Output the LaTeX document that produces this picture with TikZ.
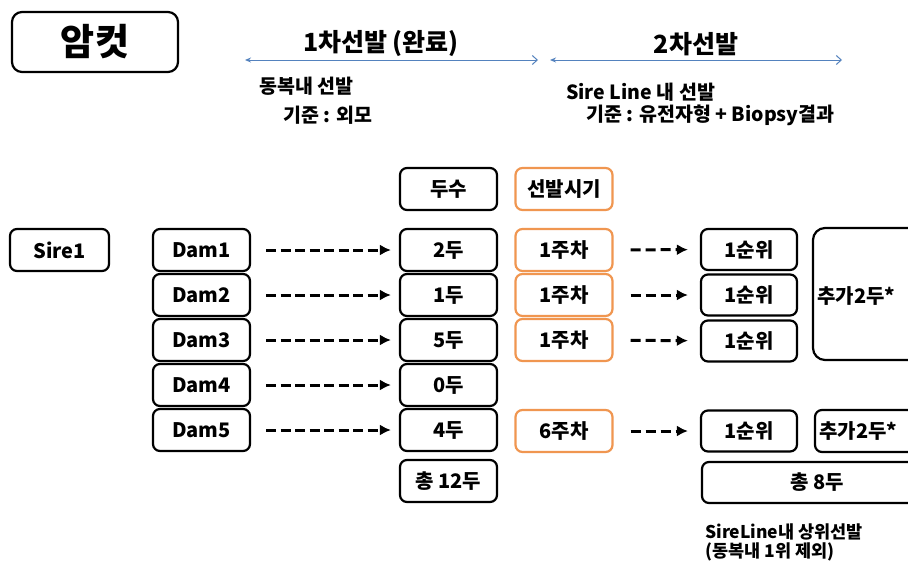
\documentclass[tikz,border=0pt]{standalone}
\usepackage{fontspec}
\setmainfont{Noto Sans CJK KR}
\usetikzlibrary{arrows.meta}
\definecolor{ablue}{RGB}{84,130,190}
\definecolor{aorange}{RGB}{240,150,80}
\tikzset{
  box/.style={draw=black, line width=2.2pt, rounded corners=7pt, minimum width=97pt, minimum height=42pt, inner sep=0pt, font=\bfseries\fontsize{20}{22}\selectfont},
  obox/.style={box, draw=aorange},
  txt/.style={inner sep=0pt, font=\bfseries\fontsize{19.5}{21}\selectfont},
  dasharr/.style={line width=3pt, dash pattern=on 10pt off 4.5pt, -{Latex[length=11pt,width=11pt]}},
  barr/.style={draw=ablue, line width=1pt, {Stealth[length=6pt,width=5pt]}-{Straight Barb[length=5pt,width=9pt]}},
}
\begin{document}
\begin{tikzpicture}[x=1pt,y=-1pt]
\clip (0,0) rectangle (908,562);
\fill[white] (0,0) rectangle (908,562);
% title
\node[box, minimum width=166pt, minimum height=60pt, rounded corners=10pt, font=\bfseries\fontsize{37}{40}\selectfont] (amkut) at (95,42) {암컷};
% phase arrows
\coordinate (a1l) at (245,60); \coordinate (a1r) at (538,60);
\coordinate (a2l) at (550,60); \coordinate (a2r) at (842,60);
\draw[barr] (a1l) -- (a1r);
\draw[barr] (a2l) -- (a2r);
\node[txt, font=\bfseries\fontsize{25}{27}\selectfont] (p1) at (381,44) {1차선발 (완료)};
\node[txt, font=\bfseries\fontsize{25}{27}\selectfont] (p2) at (696,44) {2차선발};
\node[txt, anchor=west] (c1a) at (259,86) {동복내 선발};
\node[txt, anchor=west] (c1b) at (283,115) {기준 : 외모};
\node[txt, anchor=west] (c2a) at (566,92) {Sire Line 내 선발};
\node[txt, anchor=west] (c2b) at (586,115) {기준 : 유전자형 + Biopsy결과};
% headers
\node[box] (dusu) at (448.5,189) {두수};
\node[obox] (sigi) at (564,189) {선발시기};
% sire
\node[box, minimum width=99pt] (sire) at (59.5,250) {Sire1};
% dams and counts
\foreach \i/\y/\c in {1/250/2두, 2/295/1두, 3/340/5두, 4/385/0두, 5/430/4두}{
  \node[box] (dam\i) at (201.5,\y) {Dam\i};
  \node[box] (cnt\i) at (448.5,\y) {\c};
  \draw[dasharr, shorten <=15pt, shorten >=8pt] (dam\i) -- (cnt\i);
}
\node[box] (tot12) at (448.5,481) {총 12두};
% weeks
\node[obox] (wk1) at (564,250) {1주차};
\node[obox] (wk2) at (564,295) {1주차};
\node[obox] (wk3) at (564,340) {1주차};
\node[obox] (wk5) at (564,431) {6주차};
% ranks
\node[box, minimum width=96pt, minimum height=41pt] (rk1) at (749,249.5) {1순위};
\node[box, minimum width=96pt, minimum height=41pt] (rk2) at (749,295) {1순위};
\node[box, minimum width=96pt, minimum height=41pt] (rk3) at (749,341) {1순위};
\node[box, minimum width=96pt, minimum height=41pt] (rk5) at (749,431) {1순위};
\foreach \i in {1,2,3,5}{
  \draw[dasharr, dash pattern=on 10pt off 5pt, shorten <=17pt, shorten >=12pt] (wk\i) -- (rk\i);
}
% extras
\node[box, minimum width=120pt, minimum height=132pt, rounded corners=12pt] (ex1) at (873,294) {};
\node[txt, anchor=west, font=\bfseries\fontsize{20}{22}\selectfont] (ex1t) at (817,296) {추가2두*};
\node[box, minimum width=118pt, minimum height=42pt] (ex5) at (874,431) {};
\node[txt, anchor=west, font=\bfseries\fontsize{20}{22}\selectfont] (ex5t) at (819,431) {추가2두*};
\node[box, minimum width=230pt, minimum height=41pt] (tot8) at (817,482.5) {총 8두};
\node[txt, anchor=west, font=\bfseries\fontsize{17.5}{19}\selectfont] (n1) at (705,532) {SireLine내 상위선발};
\node[txt, anchor=west, font=\bfseries\fontsize{17.5}{19}\selectfont] (n2) at (705,552) {(동복내 1위 제외)};
\end{tikzpicture}
\end{document}
